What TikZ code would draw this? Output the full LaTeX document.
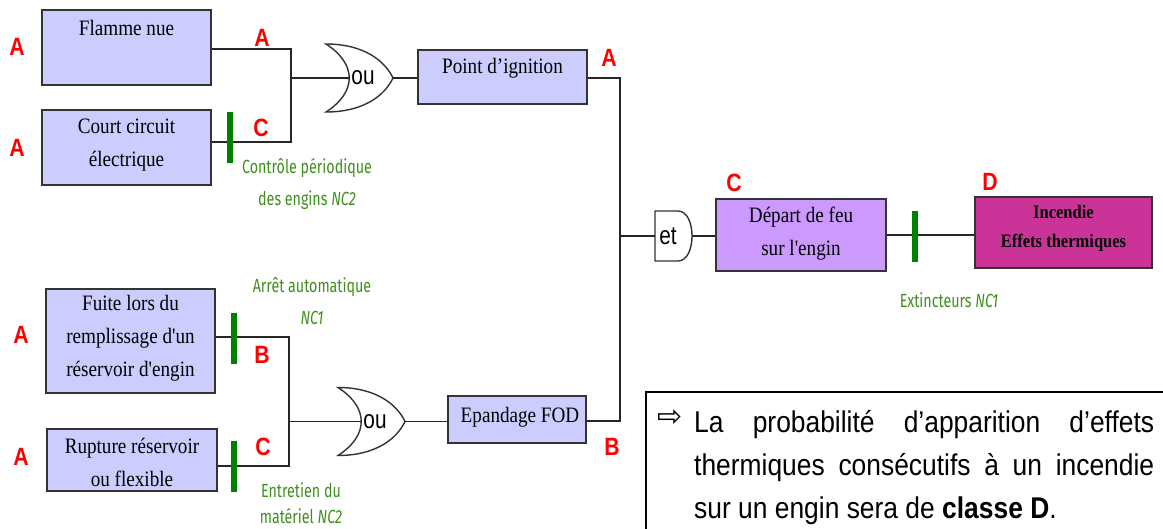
\documentclass[tikz,border=0pt]{standalone}
\usepackage{fontspec}
\newfontfamily\boxfont[FakeStretch=0.87,Ligatures=TeXOff]{Liberation Serif}
\newfontfamily\gatefont[FakeStretch=0.8]{Liberation Sans}
\newfontfamily\notefont[FakeStretch=0.88]{Liberation Sans}
\newfontfamily\greenfont[FakeStretch=0.75]{Fira Sans}
\newfontfamily\arrowfont{DejaVu Sans}
\newfontfamily\markfont[FakeStretch=0.85]{Liberation Sans}

\definecolor{evtfill}{HTML}{CCCCFF}
\definecolor{firefill}{HTML}{CC99FF}
\definecolor{hotfill}{HTML}{CC3399}
\definecolor{barrier}{HTML}{008000}
\definecolor{barriertext}{HTML}{3F8F1C}
\definecolor{edge}{HTML}{333333}

\tikzset{
  evtbox/.style={draw=edge, line width=1.5pt, fill=evtfill, inner sep=0pt},
  wire/.style={line width=1.3pt, draw=black!85},
  gateline/.style={line width=1.4pt, draw=edge, fill=white},
  barbox/.style={fill=barrier, inner sep=0pt, minimum width=6pt, minimum height=51pt},
  cls/.style={text=red, font=\markfont\bfseries\fontsize{25}{25}\selectfont, inner sep=0pt},
  lbl/.style={font=\boxfont\fontsize{22}{33}\selectfont, align=center, inner sep=0pt},
  hotlbl/.style={font=\boxfont\bfseries\fontsize{19}{29}\selectfont, align=center, inner sep=0pt},
  safeguard/.style={text=barriertext, font=\greenfont\fontsize{19}{32}\selectfont, align=center, inner sep=0pt},
  notetext/.style={font=\notefont\fontsize{30}{30}\selectfont, inner sep=0pt, anchor=base west},
  % OR gate: origin at the middle of the back edge
  orgate/.pic={
    \path[gateline] (0,-34) .. controls (38,-34) and (59,-17) .. (67,0)
                    .. controls (59,17) and (38,34) .. (0,34)
                    .. controls (31,14) and (31,-14) .. cycle;
    \coordinate (-in) at (24,0);
    \coordinate (-out) at (67,0);
    \node[font=\gatefont\fontsize{26}{26}\selectfont, inner sep=0pt] (-lbl) at (37,0) {ou};
  },
  % AND gate: origin at the middle of the flat left edge
  andgate/.pic={
    \path[gateline] (0,-25) -- (23,-25) .. controls (41.7,-25) and (41.7,25) .. (23,25)
                    -- (0,25) -- cycle;
    \coordinate (-in) at (0,0);
    \coordinate (-out) at (37,0);
    \node[font=\gatefont\fontsize{26}{26}\selectfont, inner sep=0pt] (-lbl) at (13,0) {et};
  }
}

\begin{document}
\begin{tikzpicture}[x=1pt,y=-1pt]
\useasboundingbox (0,0) rectangle (1163,528);

% ---------- event boxes ----------
\node[evtbox, minimum width=169pt, minimum height=75pt] (fl) at (126.5,47.5) {};
\node[evtbox, minimum width=169pt, minimum height=75pt] (cc) at (126.5,147.5) {};
\node[evtbox, minimum width=169pt, minimum height=54pt] (pi) at (502.5,77) {};
\node[evtbox, minimum width=169pt, minimum height=104pt] (fu) at (130.5,341) {};
\node[evtbox, minimum width=170pt, minimum height=62pt] (ru) at (132,460) {};
\node[evtbox, minimum width=138pt, minimum height=47pt] (ep) at (517,419.5) {};
\node[evtbox, fill=firefill, minimum width=170pt, minimum height=72pt] (df) at (801,235) {};
\node[evtbox, fill=hotfill, minimum width=177pt, minimum height=71pt] (in) at (1063.5,232.5) {};

% box texts
\node[lbl] (fl-t) at (126.5,28) {Flamme nue};
\node[lbl] (cc-t) at (126.5,145) {Court circuit\\électrique};
\node[lbl] (pi-t) at (502.5,68) {Point d’ignition};
\node[lbl] (fu-t) at (130.5,338) {Fuite lors du\\remplissage d'un\\réservoir d'engin};
\node[lbl] (ru-t) at (132,462) {Rupture réservoir\\ou flexible};
\node[lbl] (ep-t) at (520,417) {Epandage FOD};
\node[lbl] (df-t) at (801,234) {Départ de feu\\sur l'engin};
\node[hotlbl] (in-t) at (1063.5,228.5) {Incendie\\Effets thermiques};

% ---------- gates ----------
\pic (g1) at (326,78) {orgate};
\pic (g2) at (338,421.5) {orgate};
\pic (g3) at (655,236) {andgate};

% ---------- junction points ----------
\coordinate (j1) at (291,78);
\coordinate (j2) at (289,421.5);
\coordinate (j3) at (620,236);

% ---------- wires ----------
\draw[wire] (fl.east |- 0,49) -- (j1 |- 0,49) -- (j1 |- 0,142) -- (cc.east |- 0,142);
\draw[wire] (j1) -- (g1-in);
\draw[wire] (g1-out) -- (pi.west |- g1-out);
\draw[wire] (pi.east |- g1-out) -- (j3 |- g1-out) -- (j3 |- 0,421) -- (ep.east |- 0,421);
\draw[wire] (j3) -- (g3-in);
\draw[wire] (g3-out) -- (df.west |- g3-out);
\draw[wire] (df.east) -- (df.east -| in.west);
\draw[wire] (fu.east |- 0,337) -- (j2 |- 0,337) -- (j2 |- 0,466) -- (ru.east |- 0,466);
\draw[wire] (j2) -- (g2-in);
\draw[wire] (g2-out) -- (ep.west |- g2-out);

% ---------- safety barriers ----------
\node[barbox] (bar1) at (230,137.5) {};
\node[barbox] (bar2) at (234,338.5) {};
\node[barbox] (bar3) at (234,466.5) {};
\node[barbox] (bar4) at (915,236.5) {};

\node[safeguard] (sg1) at (307,184) {Contrôle périodique\\des engins \textit{NC2}};
\node[safeguard] (sg2) at (312,301.5) {Arrêt automatique\\\textit{NC1}};
\node[safeguard, font=\greenfont\fontsize{19}{26}\selectfont] (sg3) at (301,503) {Entretien du\\matériel \textit{NC2}};
\node[safeguard] (sg4) at (949,300) {Extincteurs \textit{NC1}};

% ---------- criticity classes ----------
\node[cls] (k1) at (17,47) {A};
\node[cls] (k2) at (17,148) {A};
\node[cls] (k3) at (262,38) {A};
\node[cls] (k4) at (261,128) {C};
\node[cls] (k5) at (609,58) {A};
\node[cls] (k6) at (734,183) {C};
\node[cls] (k7) at (990,182) {D};
\node[cls] (k8) at (21,335) {A};
\node[cls] (k9) at (262,355) {B};
\node[cls] (k10) at (21,457) {A};
\node[cls] (k11) at (263,447) {C};
\node[cls] (k12) at (612,447) {B};

% ---------- conclusion ----------
\node[draw=black, line width=1.5pt, anchor=north west, minimum width=540pt, minimum height=160pt, inner sep=0pt] (note) at (645,391) {};
\node[font=\arrowfont\fontsize{30}{30}\selectfont, inner sep=0pt] (arr) at (670,418) {⇨};
\node[notetext] (l1) at (694,432) {\makebox[460pt][s]{La probabilité d’apparition d’effets}};
\node[notetext] (l2) at (694,475) {\makebox[460pt][s]{thermiques consécutifs à un incendie}};
\node[notetext] (l3) at (694,518) {sur un engin sera de \textbf{classe D}.};
\end{tikzpicture}
\end{document}
